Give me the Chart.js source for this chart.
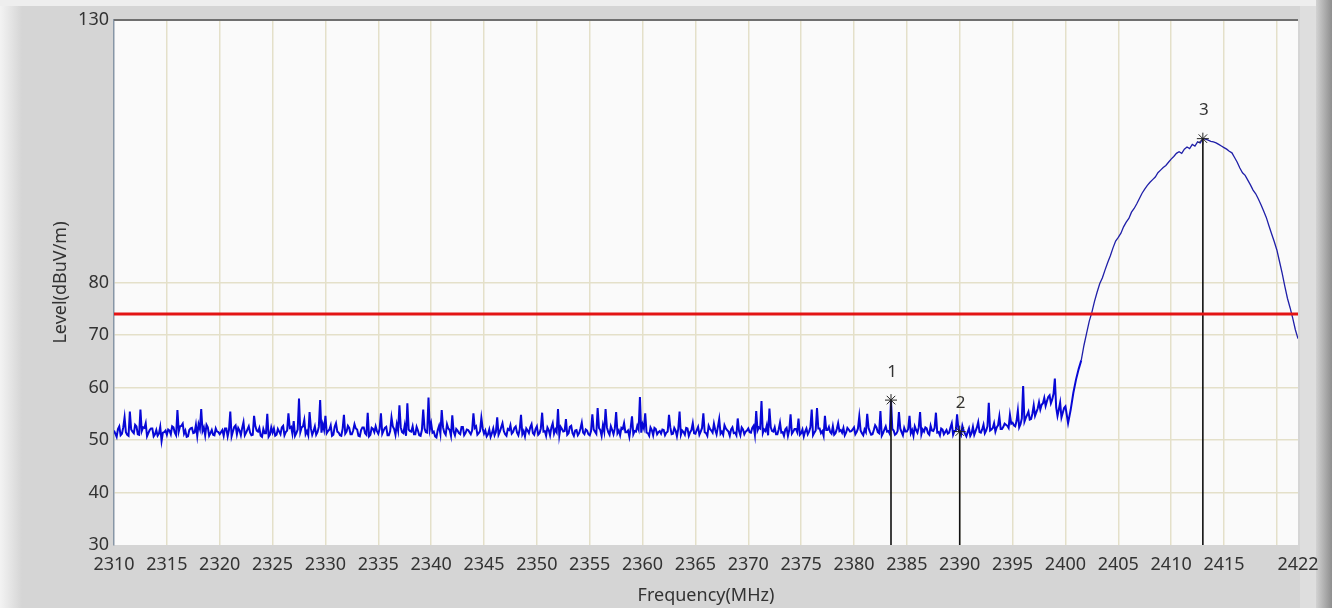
<!DOCTYPE html>
<html>
<head>
<meta charset="utf-8">
<title>Level vs Frequency</title>
<script src="https://cdn.jsdelivr.net/npm/chart.js@4.4.1/dist/chart.umd.min.js"></script>
<style>
  html, body { margin: 0; padding: 0; background: #d5d5d5; }
  #wrap { width: 1332px; height: 608px; }
</style>
</head>
<body>
<div id="wrap"><canvas id="plot" width="1332" height="608"></canvas></div>
<script>
// noise floor sweep: 2310 .. 2399.875 MHz, a reading every 0.125 MHz (40 per 5 MHz)
const noiseStart = 2310
const noiseStep = 0.125
const noiseLevels = [
  51.8, 51.2, 50.6, 52.1, 52.6, 50.9, 51.2, 52.4, 54.3, 51.5, 51.0, 50.8, 55.4, 52.0, 51.6, 51.3, 52.9, 52.6, 51.1, 51.0,
  55.8, 51.7, 52.4, 52.3, 53.2, 50.7, 51.3, 51.9, 52.2, 52.2, 50.7, 51.1, 51.9, 50.8, 51.2, 52.5, 49.8, 51.4, 51.5, 51.8,
  51.0, 52.0, 51.8, 51.1, 52.6, 52.4, 51.4, 50.9, 55.7, 51.6, 52.6, 52.7, 53.1, 51.2, 51.8, 50.6, 50.7, 51.9, 52.2, 52.3,
  51.3, 51.4, 52.9, 50.8, 53.0, 52.1, 55.9, 51.7, 52.4, 50.9, 52.9, 52.4, 50.8, 51.3, 51.9, 51.0, 50.9, 52.2, 51.6, 51.5,
  51.1, 51.5, 51.9, 50.8, 52.2, 52.2, 50.7, 51.9, 55.4, 50.7, 51.6, 52.5, 52.8, 51.1, 52.3, 51.8, 50.9, 52.3, 53.4, 50.9,
  51.4, 52.0, 52.6, 51.4, 50.9, 51.0, 54.6, 52.6, 51.8, 51.6, 52.3, 50.8, 50.6, 52.1, 51.3, 51.3, 55.0, 50.6, 51.0, 52.4,
  51.4, 52.2, 50.8, 51.0, 52.1, 51.6, 51.1, 52.4, 52.7, 50.9, 51.5, 51.8, 55.1, 52.3, 52.5, 51.2, 53.6, 50.8, 51.3, 52.0,
  57.9, 51.5, 52.4, 52.6, 53.8, 51.1, 51.7, 50.9, 55.3, 52.2, 51.0, 51.7, 52.6, 51.0, 51.5, 52.5, 57.6, 51.4, 53.0, 51.9,
  54.6, 51.3, 51.7, 52.0, 52.8, 50.8, 51.0, 52.5, 53.2, 51.6, 51.4, 50.9, 50.8, 52.1, 54.8, 51.2, 51.6, 52.7, 52.3, 51.1,
  51.1, 51.8, 53.0, 52.2, 52.0, 50.8, 50.7, 51.9, 52.4, 52.4, 51.3, 51.0, 55.2, 50.7, 51.0, 52.3, 52.1, 51.5, 52.6, 51.7,
  51.2, 52.1, 55.1, 51.2, 51.8, 52.3, 52.5, 50.9, 50.9, 51.7, 54.3, 52.6, 52.1, 51.0, 53.0, 51.8, 56.6, 52.4, 51.5, 51.3,
  52.8, 50.8, 57.0, 52.0, 51.7, 51.6, 52.6, 51.1, 51.1, 52.5, 51.8, 50.9, 50.8, 51.9, 55.8, 52.2, 51.5, 51.4, 58.1, 52.0,
  53.2, 51.4, 51.6, 50.7, 50.5, 51.9, 52.7, 51.2, 55.7, 52.4, 51.4, 51.0, 53.0, 52.2, 51.9, 50.8, 54.7, 51.6, 50.9, 52.1,
  51.8, 51.3, 51.1, 52.5, 52.5, 50.9, 51.3, 52.0, 51.9, 51.5, 51.1, 51.8, 55.1, 52.3, 52.6, 51.0, 51.3, 51.7, 54.2, 52.2,
  51.2, 51.8, 50.7, 51.1, 52.0, 50.6, 51.3, 52.2, 50.9, 51.5, 54.3, 51.0, 51.6, 52.4, 53.2, 51.7, 51.1, 50.8, 52.1, 51.9,
  52.8, 51.2, 51.5, 52.3, 52.6, 51.4, 50.9, 52.0, 54.8, 51.1, 51.7, 50.7, 52.2, 51.8, 51.3, 52.4, 53.0, 51.3, 51.0, 52.1,
  52.6, 51.0, 51.3, 52.2, 55.2, 51.6, 51.7, 50.8, 52.4, 51.9, 50.9, 52.4, 53.2, 51.2, 52.0, 51.5, 55.9, 50.9, 52.5, 52.1,
  51.6, 51.7, 54.0, 51.0, 51.3, 52.5, 52.7, 51.3, 50.8, 51.8, 51.9, 50.9, 51.3, 52.2, 53.3, 51.4, 51.1, 52.0, 51.8, 51.1,
  50.9, 51.7, 54.9, 52.0, 51.6, 51.2, 56.1, 52.3, 51.9, 50.8, 52.8, 51.6, 55.9, 52.4, 51.5, 51.0, 52.6, 51.9, 51.1, 52.2,
  55.3, 51.3, 51.8, 50.9, 52.3, 52.1, 53.2, 51.5, 51.5, 51.8, 50.6, 52.3, 54.5, 51.1, 51.7, 51.6, 52.7, 52.0, 58.2, 51.4,
  53.0, 52.2, 55.1, 51.4, 51.3, 50.8, 52.4, 51.9, 50.9, 52.3, 52.1, 51.1, 51.5, 51.7, 51.2, 52.0, 51.9, 50.9, 51.4, 51.6,
  54.8, 52.4, 51.1, 51.2, 52.3, 51.8, 50.7, 52.1, 55.4, 51.0, 51.8, 51.5, 51.0, 52.3, 52.2, 50.8, 51.5, 51.9, 53.2, 51.3,
  51.2, 51.9, 52.5, 51.0, 51.6, 52.3, 55.1, 51.5, 51.3, 50.8, 52.7, 52.1, 51.8, 51.4, 53.1, 51.9, 51.1, 52.5, 54.0, 51.2,
  51.6, 51.0, 52.8, 52.2, 51.9, 51.6, 50.8, 52.0, 52.4, 51.3, 51.4, 50.9, 54.1, 51.7, 50.9, 52.4, 52.0, 51.1, 51.6, 51.8,
  52.2, 51.5, 51.4, 52.3, 52.7, 51.0, 55.5, 51.8, 52.4, 52.2, 57.4, 51.3, 52.0, 51.7, 52.8, 50.9, 56.0, 52.4, 51.7, 51.6,
  52.4, 51.1, 51.1, 52.0, 53.3, 51.4, 51.5, 50.8, 52.0, 52.3, 50.8, 51.9, 54.9, 51.2, 51.6, 52.1, 52.1, 51.5, 54.1, 51.0,
  51.3, 52.0, 50.7, 51.6, 52.2, 51.1, 51.6, 52.4, 55.8, 50.9, 51.4, 51.8, 56.1, 52.2, 52.2, 51.3, 51.7, 50.8, 54.6, 51.9,
  51.9, 52.5, 51.5, 51.2, 52.6, 51.0, 51.3, 52.1, 53.2, 51.7, 51.9, 51.4, 52.3, 50.9, 51.4, 52.3, 52.0, 51.6, 51.7, 52.0,
  52.4, 51.1, 51.5, 52.2, 54.5, 51.8, 51.3, 50.9, 52.0, 51.5, 55.0, 52.3, 51.6, 51.0, 51.1, 51.9, 52.8, 52.4, 51.5, 51.3,
  55.5, 50.8, 51.3, 52.0, 52.6, 51.6, 51.7, 51.2, 57.6, 52.1, 51.8, 51.0, 51.2, 51.7, 55.3, 52.2, 51.5, 50.9, 52.3, 51.6,
  51.6, 52.1, 54.6, 51.3, 51.9, 50.8, 52.6, 51.9, 51.4, 52.4, 55.3, 51.1, 52.0, 51.6, 52.4, 52.2, 51.3, 51.0, 52.7, 51.8,
  51.7, 52.3, 55.2, 51.4, 51.5, 50.9, 52.2, 52.0, 51.1, 51.5, 51.9, 51.2, 51.4, 52.4, 53.2, 51.0, 51.7, 51.7, 54.9, 52.1,
  51.6, 51.0, 52.7, 51.8, 51.2, 50.7, 51.5, 52.2, 50.8, 51.3, 52.5, 51.0, 51.7, 52.4, 53.4, 51.5, 51.4, 52.0, 52.9, 51.3,
  51.8, 52.6, 57.1, 51.8, 52.0, 52.3, 53.2, 51.6, 52.4, 52.8, 54.5, 52.1, 52.1, 52.5, 53.1, 52.9, 52.7, 52.3, 54.8, 53.1,
  53.3, 52.8, 52.6, 53.6, 55.6, 52.4, 53.0, 54.1, 60.3, 53.5, 54.2, 54.8, 55.4, 53.9, 54.0, 55.0, 56.6, 54.6, 55.3, 56.0,
  57.2, 55.8, 56.7, 57.0, 58.0, 56.5, 57.4, 58.2, 58.5, 57.0, 57.7, 58.8, 61.7, 56.2, 54.6, 55.8, 57.1, 54.3, 55.2, 56.1
]

// carrier sweep: 2400 .. 2422 MHz, a reading every 0.25 MHz
const bandStart = 2400
const bandStep = 0.25
const bandLevels = [
  56.4, 53.2, 55.8, 59.0,
  61.5, 63.5, 65.2, 68.0,
  70.3, 72.6, 74.3, 76.4,
  78.2, 79.8, 80.9, 82.4,
  83.8, 85.1, 86.6, 87.9,
  88.6, 89.4, 90.6, 91.5,
  92.2, 93.4, 94.1, 95.0,
  96.0, 97.0, 97.8, 98.5,
  99.1, 99.6, 100.1, 100.9,
  101.4, 101.9, 102.3, 102.9,
  103.5, 104.0, 104.6, 104.9,
  104.6, 105.4, 105.8, 105.5,
  106.3, 106.0, 106.8, 106.6,
  107.4, 107.3, 107.1, 106.9,
  106.8, 106.6, 106.3, 106.0,
  105.7, 105.4, 105.0, 104.7,
  103.8, 102.9, 101.8, 100.9,
  100.4, 99.5, 98.6, 97.6,
  96.9, 95.9, 94.8, 93.6,
  92.4, 90.8, 89.3, 87.8,
  86.2, 84.0, 81.8, 79.3,
  77.0, 75.2, 73.2, 71.0,
  69.3
]

const markerNames = ['1', '2', '3']
const markerFreqs = [2383.5, 2390, 2413]
const markerLevels = [57.6, 51.6, 107.4]

const limitLevel = 74

const xTickValues = [2310, 2315, 2320, 2325, 2330, 2335, 2340, 2345, 2350, 2355, 2360, 2365,
  2370, 2375, 2380, 2385, 2390, 2395, 2400, 2405, 2410, 2415, 2420, 2422]
const xTickLabels = ['2310', '2315', '2320', '2325', '2330', '2335', '2340', '2345', '2350', '2355', '2360', '2365',
  '2370', '2375', '2380', '2385', '2390', '2395', '2400', '2405', '2410', '2415', '', '2422']
const yTickValues = [30, 40, 50, 60, 70, 80, 130]

const trace = noiseLevels.map((v, i) => ({ x: noiseStart + i * noiseStep, y: v }))
  .concat(bandLevels.map((v, i) => ({ x: bandStart + i * bandStep, y: v })))

const FONT = "'Noto Sans', 'DejaVu Sans', sans-serif"
const GRID = '#e4e0c9'

// grey panel around the plot, like the analyser window
const frame = {
  id: 'frame',
  beforeDraw(chart) {
    const { ctx, width, height, chartArea: a } = chart
    ctx.save()
    ctx.fillStyle = '#d5d5d5'
    ctx.fillRect(0, 0, width, height)
    let g = ctx.createLinearGradient(0, 0, 22, 0)
    g.addColorStop(0, '#f3f3f3')
    g.addColorStop(1, '#d5d5d5')
    ctx.fillStyle = g
    ctx.fillRect(0, 0, 22, height)
    ctx.fillStyle = '#eeeeee'
    ctx.fillRect(0, 0, width, 6)
    ctx.fillStyle = '#dedede'
    ctx.fillRect(1300, 6, 18, height - 6)
    g = ctx.createLinearGradient(1316, 0, width, 0)
    g.addColorStop(0, '#d2d2d2')
    g.addColorStop(1, '#8e8e8e')
    ctx.fillStyle = g
    ctx.fillRect(1316, 0, width - 1316, height)
    ctx.fillStyle = '#fafafa'
    ctx.fillRect(a.left, a.top, a.right - a.left, a.bottom - a.top)
    ctx.restore()
  },
  afterDraw(chart) {
    const { ctx, chartArea: a } = chart
    ctx.save()
    ctx.strokeStyle = '#6f6f6f'
    ctx.lineWidth = 2
    ctx.beginPath()
    ctx.moveTo(a.left, a.top)
    ctx.lineTo(a.right, a.top)
    ctx.stroke()
    ctx.restore()
  }
}

// numbers above the marker stars
const markerText = {
  id: 'markerText',
  afterDatasetsDraw(chart) {
    const meta = chart.getDatasetMeta(chart.data.datasets.findIndex(d => d.label === 'markers'))
    const { ctx } = chart
    ctx.save()
    ctx.font = '17px ' + FONT
    ctx.fillStyle = '#333'
    ctx.textAlign = 'center'
    ctx.textBaseline = 'middle'
    meta.data.forEach((pt, i) => {
      ctx.fillText(markerNames[i], pt.x + 1, pt.y - 28)
    })
    ctx.restore()
  }
}

const markerLines = markerFreqs.map((f, i) => ({
  label: 'marker ' + markerNames[i],
  data: [{ x: f, y: markerLevels[i] }, { x: f, y: 30 }],
  borderColor: '#111',
  borderWidth: 1.6,
  pointRadius: 0,
  order: 2
}))

// the noisy floor is drawn bright, the carrier as a thin navy line
const inCarrier = (c) => c.p0.parsed.x >= 2401.5

new Chart(document.getElementById('plot'), {
  type: 'line',
  data: {
    datasets: [
      {
        label: 'limit',
        data: [{ x: 2310, y: limitLevel }, { x: 2422, y: limitLevel }],
        borderColor: '#e31414',
        borderWidth: 3,
        pointRadius: 0,
        order: 0
      },
      {
        label: 'markers',
        data: markerFreqs.map((f, i) => ({ x: f, y: markerLevels[i] })),
        showLine: false,
        pointStyle: 'star',
        pointRadius: 6,
        borderColor: '#222',
        borderWidth: 1,
        backgroundColor: 'transparent',
        order: 1
      },
      ...markerLines,
      {
        label: 'level',
        data: trace,
        borderColor: '#0707d6',
        borderWidth: 2,
        pointRadius: 0,
        tension: 0,
        segment: {
          borderColor: (c) => inCarrier(c) ? '#1f1fa8' : undefined,
          borderWidth: (c) => inCarrier(c) ? 1.3 : undefined
        },
        order: 3
      }
    ]
  },
  options: {
    responsive: false,
    animation: false,
    layout: { padding: { left: 0, top: 20, right: 34, bottom: 0 } },
    plugins: {
      legend: { display: false },
      tooltip: { enabled: false }
    },
    scales: {
      x: {
        type: 'linear',
        min: 2310,
        max: 2422,
        afterFit(scale) { scale.height = 63 },
        afterBuildTicks(scale) { scale.ticks = xTickValues.map(v => ({ value: v })) },
        ticks: {
          autoSkip: false,
          maxRotation: 0,
          padding: 9,
          color: '#333',
          font: { family: FONT, size: 18 },
          callback: (v) => xTickLabels[xTickValues.indexOf(v)]
        },
        grid: {
          drawTicks: false,
          lineWidth: 1.5,
          color: (c) => (c.tick && (c.tick.value === 2310 || c.tick.value === 2422)) ? 'transparent' : GRID
        },
        border: { display: false },
        title: {
          display: true,
          text: 'Frequency(MHz)',
          color: '#333',
          font: { family: FONT, size: 18 },
          padding: { top: 0, bottom: 1 }
        }
      },
      y: {
        type: 'linear',
        min: 30,
        max: 130,
        afterFit(scale) { scale.width = 114 },
        afterBuildTicks(scale) { scale.ticks = yTickValues.map(v => ({ value: v })) },
        ticks: {
          padding: 5,
          color: '#333',
          font: { family: FONT, size: 18 }
        },
        grid: {
          drawTicks: false,
          lineWidth: 1.5,
          color: (c) => (c.tick && (c.tick.value === 30 || c.tick.value === 130)) ? 'transparent' : GRID
        },
        border: { display: true, color: '#8796a6', width: 1.5 },
        title: {
          display: true,
          text: 'Level(dBuV/m)',
          color: '#333',
          font: { family: FONT, size: 18 },
          padding: { top: 50, bottom: 0 }
        }
      }
    }
  },
  plugins: [frame, markerText]
})
</script>
</body>
</html>
